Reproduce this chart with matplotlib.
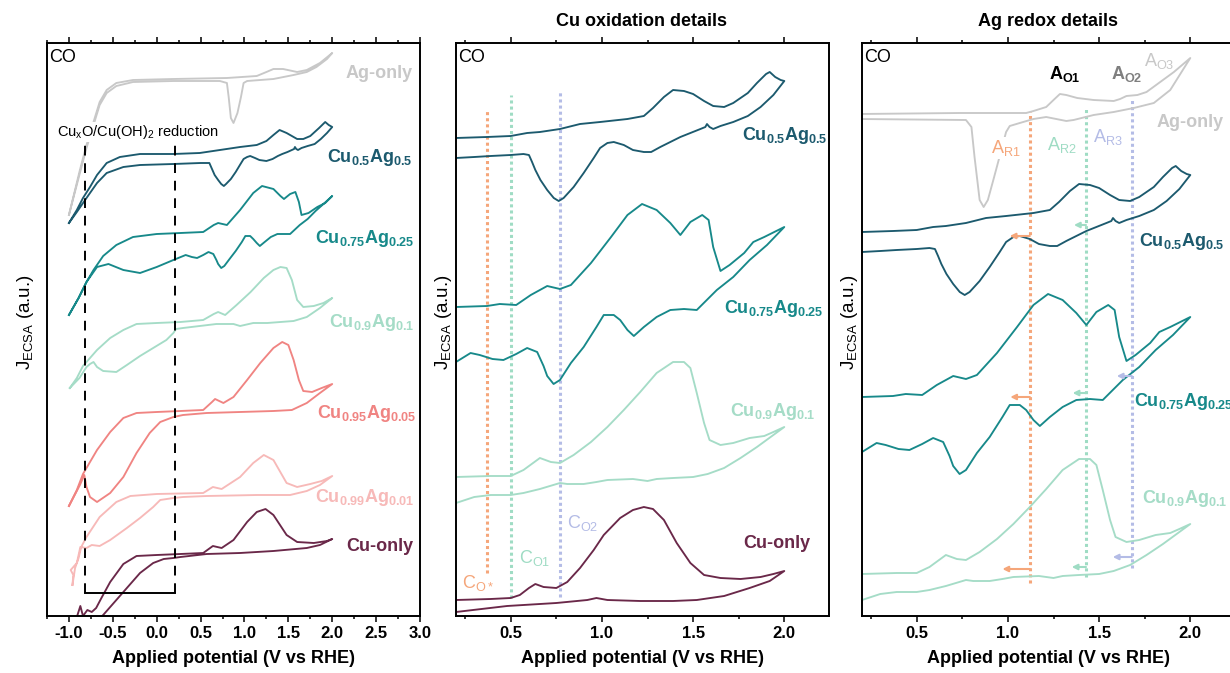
import numpy as np
import matplotlib
matplotlib.use('Agg')
import matplotlib.pyplot as plt
from matplotlib.ticker import MultipleLocator

plt.rcParams['font.family'] = 'Liberation Sans'
plt.rcParams['mathtext.fontset'] = 'custom'
plt.rcParams['mathtext.rm'] = 'Liberation Sans'
plt.rcParams['mathtext.bf'] = 'Liberation Sans:bold'
plt.rcParams['mathtext.default'] = 'regular'
plt.rcParams['axes.unicode_minus'] = False

# ---- panel 1 curves (full range), anodic sweep then cathodic sweep ----
ag1_x = [-1.0, -0.95, -0.875, -0.80, -0.72, -0.65, -0.57, -0.46, -0.27, 0.19, 0.80, 1.14, 1.25, 1.33, 1.44, 1.60, 1.71, 1.86, 2.0,
         1.94, 1.82, 1.71, 1.56, 1.33, 1.03, 0.99, 0.96, 0.92, 0.875, 0.845, 0.82, 0.80, 0.72, 0.19, -0.27, -0.46, -0.57, -0.65, -0.72, -0.80, -0.875, -0.95, -1.0]
ag1_y = [401, 419, 446, 471, 494, 514, 526, 533, 536, 537, 538, 540, 544, 547, 547, 544, 546, 553, 563,
         557, 549, 544, 541, 537, 535, 533, 519, 503, 493, 498, 519, 533, 535, 535, 534, 530, 523, 511, 491, 468, 443, 418, 401]

cu05_1x = [-1.0, -0.91, -0.84, -0.76, -0.68, -0.57, -0.42, -0.19, 0.19, 0.49, 0.72, 0.95, 1.14, 1.25, 1.33, 1.40, 1.48, 1.60, 1.67, 1.75, 1.85, 1.92, 1.96, 2.0,
           1.94, 1.87, 1.80, 1.72, 1.65, 1.61, 1.59, 1.575, 1.565, 1.54, 1.49, 1.43, 1.38, 1.32, 1.25, 1.17, 1.12, 1.065, 1.03, 0.99,
           0.955, 0.90, 0.845, 0.79, 0.765, 0.735, 0.70, 0.66, 0.635, 0.60, 0.5, 0.19, -0.19, -0.38, -0.57, -0.68, -0.80, -0.91, -1.0]
cu05_1y = [393, 406, 418, 429, 441, 453, 459, 462, 462, 463, 466, 469, 471, 475, 481, 486, 483, 477, 477, 480, 488, 494, 491, 489,
           483, 477, 472, 470, 468, 466, 467, 469, 467, 466, 464, 462, 460, 457, 455, 456, 458, 460, 459, 457,
           452, 444, 437, 432, 430, 432, 436, 441, 446, 453, 453, 452, 451, 449, 443, 433, 418, 404, 393]

cu075_1x = [-1.0, -0.89, -0.80, -0.72, -0.61, -0.46, -0.27, 0.0, 0.27, 0.53, 0.65, 0.70, 0.80, 0.95, 1.10, 1.20, 1.33, 1.41, 1.45, 1.52,
            1.58, 1.62, 1.65, 1.73, 1.83, 1.92, 2.0,
            1.90, 1.81, 1.72, 1.63, 1.52, 1.45, 1.375, 1.30, 1.23, 1.175, 1.14, 1.10, 1.065, 1.01, 0.97, 0.90, 0.83, 0.77, 0.735, 0.70,
            0.68, 0.645, 0.59, 0.53, 0.46, 0.40, 0.33, 0.19, 0.0, -0.19, -0.38, -0.55, -0.68, -0.80, -0.89, -1.0]
cu075_1y = [301, 318, 334, 346, 360, 371, 379, 382, 383, 384, 391, 393, 391, 406, 423, 430, 427, 420, 417, 422,
            424, 414, 401, 403, 409, 413, 420,
            412, 405, 397, 391, 382, 382, 382, 379, 374, 370, 373, 377, 380, 380, 374, 365, 357, 350, 348, 352,
            356, 362, 364, 361, 358, 359, 361, 356, 349, 343, 346, 352, 349, 334, 318, 301]

cu09_1x = [-0.99, -0.91, -0.84, -0.68, -0.53, -0.38, -0.23, 0.0, 0.27, 0.53, 0.65, 0.70, 0.78, 0.91, 1.07, 1.22, 1.33, 1.41, 1.48, 1.54,
           1.60, 1.67, 1.79, 1.90, 2.0,
           1.86, 1.71, 1.56, 1.41, 1.26, 1.10, 0.95, 0.875, 0.80, 0.68, 0.49, 0.30, 0.22, 0.19, 0.11, -0.04, -0.19, -0.34, -0.46, -0.61,
           -0.68, -0.72, -0.76, -0.80, -0.88, -0.99]
cu09_1y = [228, 238, 250, 266, 278, 286, 292, 293, 294, 296, 302, 304, 301, 311, 324, 338, 346, 349, 348, 336,
           316, 309, 310, 313, 318,
           308, 299, 295, 294, 293, 293, 290, 292, 292, 292, 290, 288, 287, 283, 276, 268, 260, 251, 244, 245,
           249, 254, 252, 249, 238, 228]

cu095_1x = [-1.0, -0.91, -0.84, -0.76, -0.68, -0.53, -0.38, -0.23, 0.0, 0.27, 0.53, 0.63, 0.665, 0.76, 0.875, 1.03, 1.18, 1.33, 1.43, 1.50,
            1.56, 1.62, 1.67, 1.77, 1.88, 2.0,
            1.86, 1.71, 1.54, 1.33, 0.95, 0.57, 0.30, 0.19, 0.04, -0.08, -0.23, -0.38, -0.53, -0.68, -0.76, -0.80, -0.825, -0.875, -1.0]
cu095_1y = [110, 126, 142, 154, 166, 184, 198, 203, 204, 205, 206, 214, 217, 213, 219, 236, 253, 268, 274, 271,
            256, 236, 225, 224, 228, 232,
            223, 213, 206, 205, 204, 203, 201, 199, 194, 183, 163, 139, 123, 114, 119, 129, 141, 131, 110]

cu099_1x = [-0.96, -0.93, -0.89, -0.86, -0.80, -0.65, -0.46, -0.30, 0.0, 0.53, 0.64, 0.74, 0.95, 1.10, 1.22, 1.33, 1.48, 1.60, 1.75, 1.88, 2.0,
            1.86, 1.71, 1.52, 1.14, 0.57, 0.30, 0.19, 0.04, -0.04, -0.19, -0.34, -0.53, -0.65, -0.74, -0.80, -0.87, -0.91, -0.98, -0.95, -0.96]
cu099_1y = [31, 48, 58, 69, 79, 99, 114, 120, 122, 123, 129, 127, 139, 153, 161, 156, 133, 129, 132, 135, 140,
            131, 125, 121, 121, 120, 119, 118, 116, 109, 98, 88, 76, 70, 71, 68, 69, 53, 46, 41, 31]

cu_1x = [-0.91, -0.87, -0.84, -0.79, -0.74, -0.69, -0.63, -0.53, -0.38, -0.23, 0.0, 0.27, 0.53, 0.64, 0.74, 0.875, 1.03, 1.14, 1.24, 1.33,
         1.48, 1.60, 1.79, 1.94, 2.0,
         1.86, 1.71, 1.33, 0.95, 0.57, 0.27, 0.19, 0.08, -0.04, -0.19, -0.36, -0.49, -0.61, -0.67]
cu_1y = [-1, 10, 0, 6, 4, 8, 18, 34, 52, 60, 61, 62, 63, 70, 68, 76, 94, 104, 107, 101,
         81, 74, 73, 75, 77,
         71, 68, 65, 63, 62, 59, 58, 57, 53, 43, 26, 13, 1, -4]

# ---- detail curves (panels 2 and 3) ----
cu05_x = [0.2, 0.37, 0.5, 0.59, 0.66, 0.77, 0.88, 0.99, 1.14, 1.23, 1.28, 1.34, 1.39, 1.45, 1.50, 1.56, 1.61, 1.67, 1.72, 1.80,
          1.85, 1.90, 1.92, 1.95, 1.98, 2.0,
          1.94, 1.87, 1.80, 1.72, 1.65, 1.61, 1.59, 1.576, 1.567, 1.54, 1.485, 1.43, 1.375, 1.32, 1.27, 1.23, 1.17, 1.12, 1.065, 1.03,
          0.99, 0.955, 0.90, 0.845, 0.79, 0.763, 0.736, 0.70, 0.663, 0.635, 0.617, 0.60, 0.57, 0.5, 0.39, 0.30, 0.2]
cu05_y = [478, 479, 480, 483, 484, 487, 492, 494, 497, 500, 508, 519, 526, 525, 522, 515, 510, 509, 513, 523,
          533, 542, 544, 539, 536, 535,
          521, 509, 500, 494, 490, 487, 489, 492, 489, 487, 483, 479, 474, 469, 464, 464, 466, 471, 474, 473,
          468, 458, 443, 429, 418, 415, 418, 426, 436, 446, 454, 461, 462, 461, 460, 459, 458]

cu075_x = [0.2, 0.37, 0.44, 0.53, 0.61, 0.70, 0.77, 0.83, 0.94, 1.05, 1.14, 1.22, 1.30, 1.375, 1.43, 1.485, 1.55, 1.585, 1.61, 1.65,
           1.70, 1.78, 1.83, 1.89, 2.0,
           1.905, 1.81, 1.72, 1.63, 1.52, 1.45, 1.375, 1.30, 1.23, 1.175, 1.14, 1.10, 1.065, 1.01, 0.97, 0.90, 0.83, 0.77, 0.735, 0.70,
           0.68, 0.645, 0.59, 0.53, 0.46, 0.40, 0.33, 0.28, 0.2]
cu075_y = [309, 310, 312, 311, 321, 330, 327, 331, 353, 379, 401, 412, 406, 393, 381, 394, 401, 396, 369, 345,
           351, 363, 374, 379, 389,
           371, 356, 339, 326, 306, 307, 306, 299, 289, 280, 286, 296, 301, 301, 289, 269, 253, 236, 232, 240,
           250, 264, 268, 262, 256, 257, 261, 263, 254]

cu09_x = [0.2, 0.39, 0.5, 0.57, 0.66, 0.72, 0.77, 0.845, 0.94, 1.03, 1.12, 1.21, 1.30, 1.39, 1.45, 1.485, 1.52, 1.56, 1.59, 1.65,
          1.72, 1.81, 1.89, 1.94, 2.0,
          1.94, 1.85, 1.76, 1.67, 1.58, 1.50, 1.39, 1.30, 1.25, 1.17, 1.03, 0.97, 0.90, 0.81, 0.77, 0.66, 0.57, 0.5, 0.39, 0.30, 0.2]
cu09_y = [139, 140, 140, 146, 158, 154, 153, 161, 174, 189, 206, 224, 243, 254, 254, 248, 223, 193, 176, 171,
          173, 178, 180, 184, 189,
          181, 169, 158, 148, 142, 139, 138, 137, 135, 137, 136, 134, 132, 132, 133, 127, 123, 121, 121, 119, 113]

cu_x = [0.2, 0.39, 0.5, 0.55, 0.60, 0.635, 0.68, 0.75, 0.81, 0.88, 0.955, 1.01, 1.10, 1.17, 1.23, 1.28, 1.34, 1.41, 1.485, 1.56,
        1.65, 1.76, 1.87, 1.94, 2.0,
        1.92, 1.81, 1.67, 1.52, 1.39, 1.21, 1.03, 0.97, 0.92, 0.75, 0.48, 0.2]
cu_y = [16, 17, 18, 21, 28, 32, 29, 28, 34, 48, 66, 81, 98, 106, 109, 107, 96, 73, 53, 41,
        38, 37, 39, 42, 45,
        35, 28, 20, 16, 15, 15, 16, 18, 16, 13, 10, 4]

ag3_x = [0.185, 0.735, 1.10, 1.14, 1.175, 1.21, 1.25, 1.285, 1.32, 1.38, 1.47, 1.58, 1.615, 1.65, 1.71, 1.76, 1.835, 1.91, 2.0,
         1.89, 1.80, 1.69, 1.58, 1.47, 1.36, 1.32, 1.21, 1.14, 1.065, 1.01, 0.99, 0.945, 0.92, 0.89, 0.867, 0.845, 0.817, 0.80, 0.77, 0.185]
ag3_y = [502, 503, 503, 505, 507, 509, 516, 522, 521, 518, 516, 515, 517, 520, 521, 524, 534, 544, 558,
         526, 513, 508, 504, 501, 496, 495, 499, 497, 493, 490, 484, 453, 436, 416, 409, 416, 459, 489, 496, 497]

# vertical offsets of the detail curves in panel 3
off3_cu05 = -94
off3_cu075 = -90
off3_cu09 = -97

# marker potentials (dotted lines)
c_lines_x = [0.37, 0.50, 0.768]
c_lines_lo = [43, 18, 19]
c_lines_hi = [506, 521, 524]
a_lines_x = [1.123, 1.428, 1.679]
a_lines_lo = [33, 39, 48]
a_lines_hi = [504, 508, 516]

# shift arrows in panel 3: start, end, height, colour index
arr_x0 = [1.12, 1.428, 1.12, 1.428, 1.679, 1.12, 1.428, 1.679]
arr_x1 = [1.01, 1.362, 1.013, 1.355, 1.597, 0.97, 1.35, 1.575]
arr_y = [380, 391, 219, 223, 240, 47, 49, 59]
arr_c = [0, 1, 0, 1, 2, 0, 1, 2]

# reduction window in panel 1
red_x = [-0.82, 0.21]

c_ag = '#c8c8c8'
c_05 = '#1c5a6e'
c_075 = '#17898a'
c_09 = '#a5dcc7'
c_095 = '#f08482'
c_099 = '#f7b9b8'
c_cu = '#6a2849'
mark_c = ['#f5a67a', '#9fdcc4', '#b4bce6']

lw = 1.35

fig = plt.figure(figsize=(12.3, 6.73), dpi=100)
W, H = 1230, 673
ax1 = fig.add_axes([47 / W, 57 / H, 373 / W, 573 / H])
ax2 = fig.add_axes([456 / W, 57 / H, 373 / W, 573 / H])
ax3 = fig.add_axes([862 / W, 57 / H, 373 / W, 573 / H])


def style(ax, xlo, xhi):
    ax.set_xlim(xlo, xhi)
    ax.set_ylim(0, 573)
    ax.set_yticks([])
    ax.xaxis.set_major_locator(MultipleLocator(0.5))
    ax.xaxis.set_minor_locator(MultipleLocator(0.25))
    ax.tick_params(axis='x', which='both', top=True, direction='out', width=1.1, labelsize=12, pad=3)
    ax.tick_params(axis='x', which='major', length=4)
    ax.tick_params(axis='x', which='minor', length=2.5)
    for s in ax.spines.values():
        s.set_linewidth(1.4)
    for lab in ax.get_xticklabels():
        lab.set_fontweight('bold')
    ax.set_xlabel('Applied potential (V vs RHE)', fontsize=13, fontweight='bold', labelpad=7)
    ax.text(0.006, 0.99, 'CO', transform=ax.transAxes, fontsize=13, va='top', ha='left')


style(ax1, -1.25, 3.0)
style(ax2, 0.2, 2.245)
style(ax3, 0.2, 2.245)

# panel 1
for x, y, c in [(ag1_x, ag1_y, c_ag), (cu05_1x, cu05_1y, c_05), (cu075_1x, cu075_1y, c_075),
                (cu09_1x, cu09_1y, c_09), (cu095_1x, cu095_1y, c_095), (cu099_1x, cu099_1y, c_099),
                (cu_1x, cu_1y, c_cu)]:
    ax1.plot(x, y, color=c, lw=lw, solid_joinstyle='round')

ax1.plot([red_x[0], red_x[0]], [23, 476], color='black', lw=1.4, ls=(0, (5, 4)))
ax1.plot([red_x[1], red_x[1]], [23, 473], color='black', lw=1.4, ls=(0, (5, 4)))
ax1.plot(red_x, [23, 23], color='black', lw=1.4)
ax1.text(-1.14, 480, r'Cu$_x$O/Cu(OH)$_2$ reduction', fontsize=10.5, ha='left', va='baseline',
         bbox=dict(facecolor='white', edgecolor='none', pad=1), zorder=5)

lab_kw = dict(fontsize=13, fontweight='bold', va='baseline')
ax1.text(2.915, 538, 'Ag-only', color=c_ag, ha='right', **lab_kw)
ax1.text(2.915, 454, r'Cu$_{\mathbf{0.5}}$Ag$_{\mathbf{0.5}}$', color=c_05, ha='right', **lab_kw)
ax1.text(2.94, 373, r'Cu$_{\mathbf{0.75}}$Ag$_{\mathbf{0.25}}$', color=c_075, ha='right', **lab_kw)
ax1.text(2.94, 289, r'Cu$_{\mathbf{0.9}}$Ag$_{\mathbf{0.1}}$', color=c_09, ha='right', **lab_kw)
ax1.text(2.96, 198, r'Cu$_{\mathbf{0.95}}$Ag$_{\mathbf{0.05}}$', color=c_095, ha='right', **lab_kw)
ax1.text(2.94, 114, r'Cu$_{\mathbf{0.99}}$Ag$_{\mathbf{0.01}}$', color=c_099, ha='right', **lab_kw)
ax1.text(2.93, 65, 'Cu-only', color=c_cu, ha='right', **lab_kw)

# panel 2
for i in range(3):
    ax2.plot([c_lines_x[i]] * 2, [c_lines_lo[i], c_lines_hi[i]], color=mark_c[i], lw=2.2,
             ls=(0, (1, 1)), zorder=1)
for x, y, c in [(cu05_x, cu05_y, c_05), (cu075_x, cu075_y, c_075), (cu09_x, cu09_y, c_09), (cu_x, cu_y, c_cu)]:
    ax2.plot(x, y, color=c, lw=lw, solid_joinstyle='round', zorder=2)

ax2.text(2.235, 476, r'Cu$_{\mathbf{0.5}}$Ag$_{\mathbf{0.5}}$', color=c_05, ha='right', **lab_kw)
ax2.text(2.213, 303, r'Cu$_{\mathbf{0.75}}$Ag$_{\mathbf{0.25}}$', color=c_075, ha='right', **lab_kw)
ax2.text(2.17, 200, r'Cu$_{\mathbf{0.9}}$Ag$_{\mathbf{0.1}}$', color=c_09, ha='right', **lab_kw)
ax2.text(2.143, 68, 'Cu-only', color=c_cu, ha='right', **lab_kw)
ax2.text(0.234, 28, r'C$_{O*}$', color=mark_c[0], fontsize=13, va='baseline')
ax2.text(0.548, 53, r'C$_{O1}$', color=mark_c[1], fontsize=13, va='baseline')
ax2.text(0.809, 88, r'C$_{O2}$', color=mark_c[2], fontsize=13, va='baseline')

# panel 3
for i in range(3):
    ax3.plot([a_lines_x[i]] * 2, [a_lines_lo[i], a_lines_hi[i]], color=mark_c[i], lw=2.2,
             ls=(0, (1, 1)), zorder=1)
ax3.plot(ag3_x, ag3_y, color=c_ag, lw=lw, solid_joinstyle='round', zorder=2)
ax3.plot(cu05_x, np.array(cu05_y) + off3_cu05, color=c_05, lw=lw, solid_joinstyle='round', zorder=2)
ax3.plot(cu075_x, np.array(cu075_y) + off3_cu075, color=c_075, lw=lw, solid_joinstyle='round', zorder=2)
ax3.plot(cu09_x, np.array(cu09_y) + off3_cu09, color=c_09, lw=lw, solid_joinstyle='round', zorder=2)

for x0, x1, y, ci in zip(arr_x0, arr_x1, arr_y, arr_c):
    ax3.annotate('', xy=(x1, y), xytext=(x0, y),
                 arrowprops=dict(arrowstyle='-|>', color=mark_c[ci], lw=1.5, mutation_scale=8,
                                 shrinkA=0, shrinkB=0), zorder=3)

ax3.text(1.817, 489, 'Ag-only', color=c_ag, ha='left', **lab_kw)
ax3.text(1.721, 370, r'Cu$_{\mathbf{0.5}}$Ag$_{\mathbf{0.5}}$', color=c_05, ha='left', **lab_kw)
ax3.text(1.692, 210, r'Cu$_{\mathbf{0.75}}$Ag$_{\mathbf{0.25}}$', color=c_075, ha='left', **lab_kw)
ax3.text(1.734, 113, r'Cu$_{\mathbf{0.9}}$Ag$_{\mathbf{0.1}}$', color=c_09, ha='left', **lab_kw)

ax3.text(1.226, 537, r'$\mathbf{A}_{\mathbf{O1}}$', color='black', fontsize=13, va='baseline')
ax3.text(1.564, 537, r'$\mathbf{A}_{\mathbf{O2}}$', color='#7f7f7f', fontsize=13, va='baseline')
ax3.text(1.747, 550, r'A$_{O3}$', color=c_ag, fontsize=13, va='baseline')
ax3.text(0.909, 463, r'A$_{R1}$', color=mark_c[0], fontsize=13, va='baseline',
         bbox=dict(facecolor='white', edgecolor='none', pad=0.5), zorder=4)
ax3.text(1.212, 466, r'A$_{R2}$', color=mark_c[1], fontsize=13, va='baseline')
ax3.text(1.468, 474, r'A$_{R3}$', color=mark_c[2], fontsize=13, va='baseline')

# y labels and titles
for px in [25, 444, 850]:
    fig.text(px / W, 1 - 322 / H, r'J$_{ECSA}$ (a.u.)', rotation=90, ha='center', va='center', fontsize=13.5)
fig.text(642 / W, 1 - 22 / H, 'Cu oxidation details', ha='center', va='center', fontsize=13, fontweight='bold')
fig.text(1048 / W, 1 - 22 / H, 'Ag redox details', ha='center', va='center', fontsize=13, fontweight='bold')

fig.savefig('out.png', dpi=100)
